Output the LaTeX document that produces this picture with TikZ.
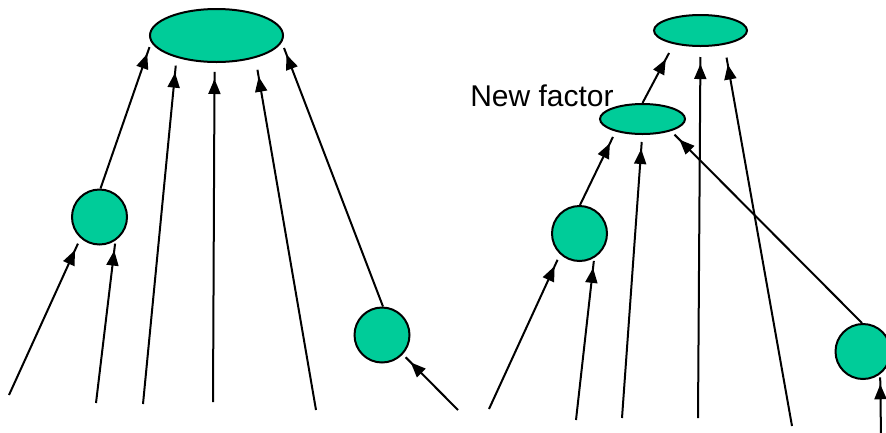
\documentclass[tikz,border=0pt]{standalone}
\usepackage{fontspec}
\setmainfont{Liberation Sans}
\usepackage{tikz}
\usetikzlibrary{shapes.geometric, arrows.meta, decorations.markings}
\definecolor{factorgreen}{RGB}{0,204,153}

\begin{document}
\begin{tikzpicture}[
        x=1pt, y=-1pt,
        line width=2pt,
        factor/.style={
            ellipse,
            draw=black,
            fill=factorgreen,
            inner sep=0pt
        },
        var/.style={
            circle,
            draw=black,
            fill=factorgreen,
            minimum size=55pt,
            inner sep=0pt
        },
        msg/.style={
            shorten >=#1,
            postaction={decorate},
            decoration={markings,
                mark=at position {-#1-7pt} with {\arrow{Triangle[length=15pt,width=12pt]}}}
        }
    ]
        \useasboundingbox (0,0) rectangle (886,432);

        % Factors and variables - left graph
        \node[factor, minimum width=133pt, minimum height=53pt] (top) at (216.5,35.5) {};
        \node[var] (xa) at (99.5,217) {};
        \node[var] (xb) at (382,335) {};

        % Loose ends - left graph
        \coordinate (a1) at (9,395);
        \coordinate (a2) at (96,403);
        \coordinate (a3) at (143,404);
        \coordinate (a4) at (213,402);
        \coordinate (a5) at (316,410);
        \coordinate (a6) at (458,410);

        % Messages - left graph
        \draw[msg=6pt] (a1) -- (xa.228);
        \draw[msg=3pt] (a2) -- (xa.304);
        \draw[msg=5pt] (xa.88) -- (top.186);
        \draw[msg=8pt] (a3) -- (top.209);
        \draw[msg=9pt] (a4) -- (top.266);
        \draw[msg=12pt] (a5) -- (top.330);
        \draw[msg=6pt] (xb.88) -- (top.354);
        \draw[msg=4pt] (a6) -- (xb.317);

        % Factors and variables - right graph
        \node[factor, minimum width=93pt, minimum height=31pt] (up) at (700.5,30.5) {};
        \node[factor, minimum width=85pt, minimum height=30pt] (new) at (642.5,119) {};
        \node[var] (xc) at (579.5,233.5) {};
        \node[var] (xd) at (863,351.5) {};
        \node[font=\fontsize{30}{32}\selectfont, inner sep=0pt] (lbl) at (542,96) {New factor};

        % Loose ends - right graph
        \coordinate (c1) at (489,409);
        \coordinate (c2) at (576,420);
        \coordinate (c3) at (622,418);
        \coordinate (c4) at (698,418);
        \coordinate (c5) at (792,426);
        \coordinate (c6) at (881,436);

        % Messages - right graph
        \draw[msg=6pt] (c1) -- (xc.227);
        \draw[msg=3pt] (c2) -- (xc.301);
        \draw[msg=6pt] (xc.89) -- (new.205);
        \draw[msg=7pt] (c3) -- (new.269);
        \draw[msg=5pt] (xd.92) -- (new.337);
        \draw[msg=10pt] (new.north) -- (up.207);
        \draw[msg=10pt] (c4) -- (up.270);
        \draw[msg=13pt] (c5) -- (up.329);
        \draw[msg=3pt] (c6) -- (xd.307);
    \end{tikzpicture}
\end{document}
